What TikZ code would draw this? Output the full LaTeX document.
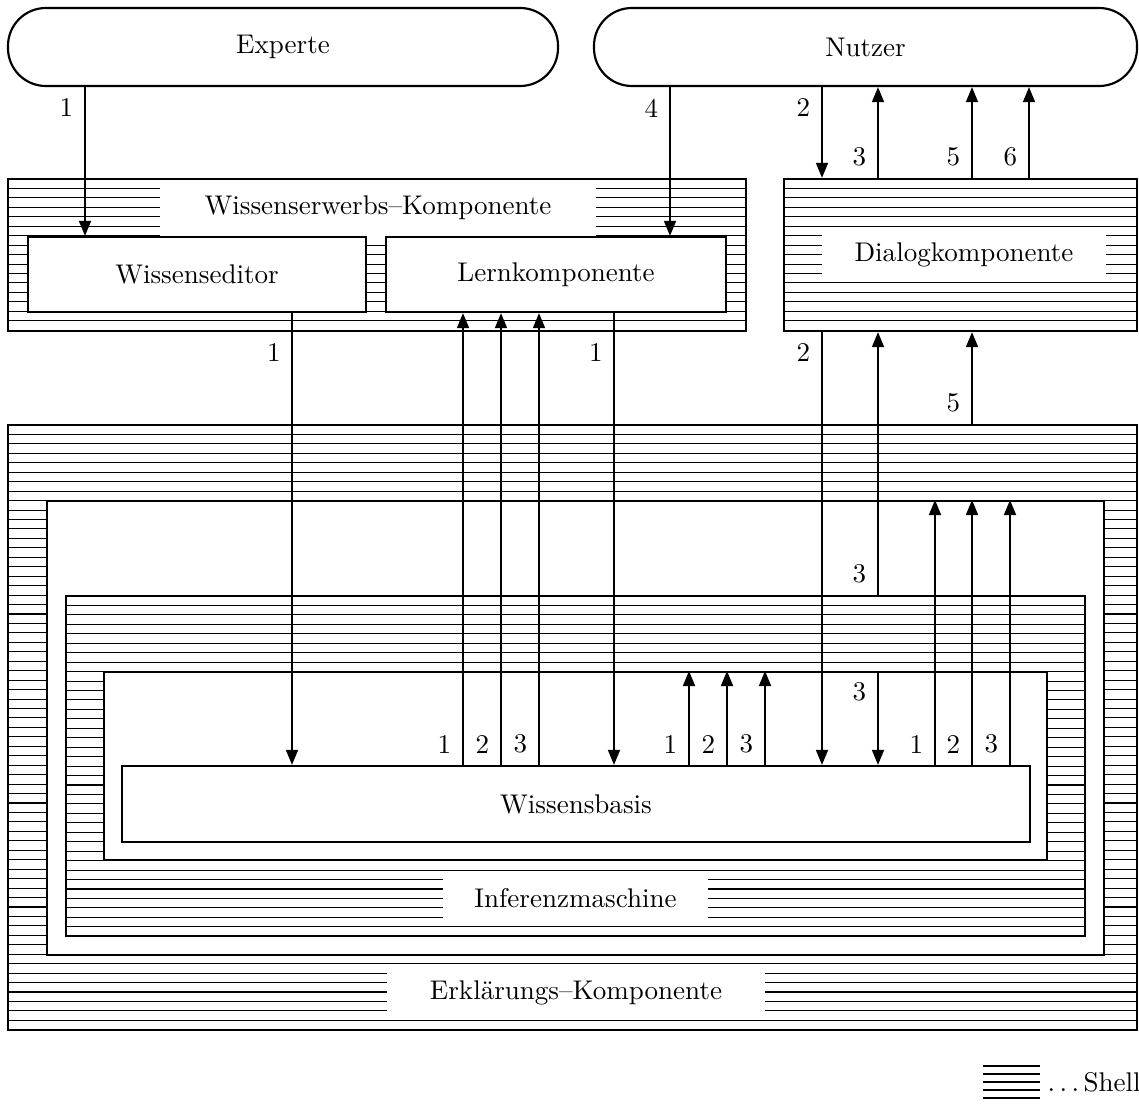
\documentclass[tikz,border=0pt]{standalone}
\usepackage{fontspec}
\usetikzlibrary{arrows.meta, fit}

% horizontal shell hatching, clipped to a rectangle
\newcommand{\hatchbox}[4]{%
  \begin{scope}
    \clip (#1,#2) rectangle (#3,#4);
    \foreach \k in {1,...,64}
      \draw[hatch] (#1,{#2+\k*9.45}) -- (#3,{#2+\k*9.45});
  \end{scope}}

\begin{document}
\begin{tikzpicture}[
    x=0.37pt, y=-0.37pt,
    frame/.style={draw, line width=0.8pt, inner sep=0pt},
    box/.style={frame, fill=white},
    clear/.style={fill=white, inner sep=0pt},
    hatch/.style={line width=0.4pt},
    agent/.style={draw, line width=0.8pt, rounded corners=14pt, inner sep=0pt},
    conn/.style={line width=0.8pt, -{Triangle[length=5.6pt, width=4.4pt]}},
    num/.style={inner sep=4pt}
]
    \useasboundingbox (0,0) rectangle (1139,1110);

    % Erklaerungs-Komponente
    \hatchbox{8}{425}{1137}{1030}
    \node[box, fit={(47,501) (1104,955)}] (erklin) {};
    \node[clear, fit={(387,966) (765,1019)}] (erkllbl) {};
    \node at (erkllbl.center) (erkltxt) {Erklärungs–Komponente};
    \node[frame, fit={(8,425) (1137,1030)}] (erkl) {};

    % Inferenzmaschine
    \hatchbox{66}{596}{1085}{936}
    \node[box, fit={(104,672) (1047,860)}] (infin) {};
    \node[clear, fit={(443,872) (708,925)}] (inflbl) {};
    \node at (inflbl.center) (inftxt) {Inferenzmaschine};
    \node[frame, fit={(66,596) (1085,936)}] (inf) {};

    % Wissensbasis
    \node[box, fit={(122,766) (1030,842)}] (kb) {};
    \node at (kb.center) (kbtxt) {Wissensbasis};

    % Wissenserwerbs-Komponente
    \hatchbox{8}{179}{746}{331}
    \node[clear, fit={(160,180) (596,236)}] (erwlbl) {};
    \node at (erwlbl.center) (erwtxt) {Wissenserwerbs–Komponente};
    \node[box, fit={(28,237) (366,312)}] (editor) {};
    \node at (editor.center) (editortxt) {Wissenseditor};
    \node[box, fit={(386,237) (726,312)}] (lern) {};
    \node at (lern.center) (lerntxt) {Lernkomponente};
    \node[frame, fit={(8,179) (746,331)}] (erw) {};

    % Dialogkomponente
    \hatchbox{784}{179}{1137}{331}
    \node[clear, fit={(822,229) (1106,281)}] (dialoglbl) {};
    \node at (dialoglbl.center) (dialogtxt) {Dialogkomponente};
    \node[frame, fit={(784,179) (1137,331)}] (dialog) {};

    % Experte, Nutzer
    \node[agent, fit={(8,8) (558,86)}] (experte) {};
    \node at (experte.center) (expertetxt) {Experte};
    \node[agent, fit={(594,8) (1137,86)}] (nutzer) {};
    \node at (nutzer.center) (nutzertxt) {Nutzer};

    % top connectors
    \draw[conn] (85,0 |- experte.south) node[num, below left] (ex1) {1} -- (85,0 |- editor.north);
    \draw[conn] (670,0 |- nutzer.south) node[num, below left] (nu4) {4} -- (670,0 |- lern.north);
    \draw[conn] (822,0 |- nutzer.south) node[num, below left] (nu2) {2} -- (822,0 |- dialog.north);
    \foreach \x/\n in {878/3, 972/5, 1029/6}
        \draw[conn] (\x,0 |- dialog.north) node[num, above left] (dn\n) {\n} -- (\x,0 |- nutzer.south);

    % Wissenserwerb <-> Wissensbasis
    \draw[conn] (292,0 |- editor.south) -- (292,0 |- kb.north);
    \node[num, below left] (ed1) at (292,0 |- erw.south) {1};
    \draw[conn] (614,0 |- lern.south) -- (614,0 |- kb.north);
    \node[num, below left] (le1) at (614,0 |- erw.south) {1};
    \foreach \x/\n in {463/1, 501/2, 539/3}
        \draw[conn] (\x,0 |- kb.north) node[num, above left] (kl\n) {\n} -- (\x,0 |- lern.south);

    % Wissensbasis -> Inferenz, Erklaerung
    \foreach \x/\n in {689/1, 727/2, 765/3}
        \draw[conn] (\x,0 |- kb.north) node[num, above left] (ki\n) {\n} -- (\x,0 |- infin.north);
    \foreach \x/\n in {935/1, 972/2, 1010/3}
        \draw[conn] (\x,0 |- kb.north) node[num, above left] (ke\n) {\n} -- (\x,0 |- erklin.north);

    % Dialog <-> inner parts
    \draw[conn] (822,0 |- dialog.south) node[num, below left] (dk2) {2} -- (822,0 |- kb.north);
    \draw[conn] (878,0 |- inf.north) node[num, above left] (id3) {3} -- (878,0 |- dialog.south);
    \draw[conn] (878,0 |- infin.north) node[num, below left] (ik3) {3} -- (878,0 |- kb.north);
    \draw[conn] (972,0 |- erkl.north) node[num, above left] (ed5) {5} -- (972,0 |- dialog.south);

    % legend
    \foreach \k in {0,...,4}
        \draw[hatch] (983,{1066+\k*8}) -- (1040,{1066+\k*8});
    \node[anchor=west, inner sep=0pt] (legend) at (1047,1082) {.\kern1.67pt.\kern1.67pt.\kern1.67pt Shell};
\end{tikzpicture}
\end{document}
